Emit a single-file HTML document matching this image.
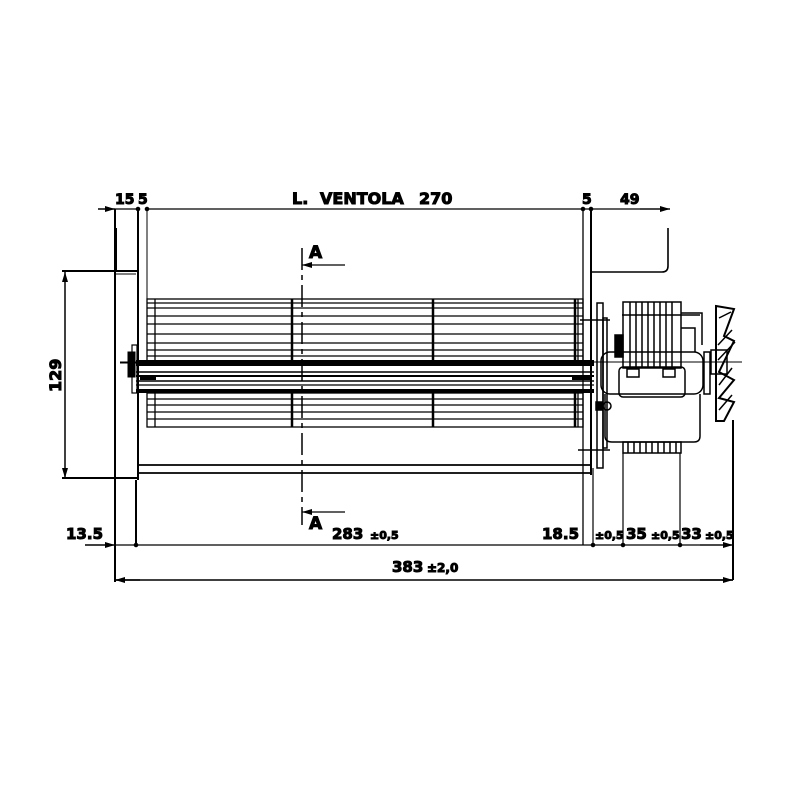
<!DOCTYPE html>
<html><head><style>
html,body{margin:0;padding:0;background:#fff;}
svg{display:block;}
text{font-family:"DejaVu Sans","Liberation Sans",sans-serif;font-weight:bold;fill:#000;}
</style></head><body>
<svg width="800" height="800" viewBox="0 0 800 800" xmlns="http://www.w3.org/2000/svg" stroke="#000" fill="none">
<defs>
<marker id="ar" viewBox="0 0 10 6" refX="10" refY="3" markerWidth="10" markerHeight="6" orient="auto" markerUnits="userSpaceOnUse"><path d="M0,0L10,3L0,6z" fill="#000" stroke="none"/></marker>
</defs>
<!-- top dimension -->
<line x1="147" y1="209" x2="670" y2="209" stroke-width="1.3"/>
<line x1="98" y1="209" x2="115" y2="209" stroke-width="1.5" marker-end="url(#ar)"/>
<line x1="115" y1="209" x2="138" y2="209" stroke-width="1.3"/>
<line x1="640" y1="209" x2="670" y2="209" stroke-width="1.3" marker-end="url(#ar)"/>
<circle cx="138" cy="209" r="1.8" fill="#000"/><circle cx="147" cy="209" r="1.8" fill="#000"/>
<circle cx="583" cy="209" r="1.8" fill="#000"/><circle cx="591" cy="209" r="1.8" fill="#000"/>
<text x="115" y="204" font-size="14">15</text><text x="138" y="204" font-size="14">5</text>
<text x="292" y="204" font-size="16">L.</text>
<text x="320" y="204" font-size="16">VENTOLA</text>
<text x="419" y="204" font-size="16">270</text>
<text x="582" y="204" font-size="14">5</text><text x="620" y="204" font-size="14">49</text>
<!-- left housing -->
<line x1="115" y1="209" x2="115" y2="582" stroke-width="2"/>
<line x1="116.5" y1="228" x2="116.5" y2="272" stroke-width="1"/>
<line x1="138" y1="209" x2="138" y2="480" stroke-width="2"/>
<line x1="147" y1="209" x2="147" y2="300" stroke-width="1"/>
<line x1="62" y1="271" x2="138" y2="271" stroke-width="2"/>
<line x1="116" y1="274" x2="136" y2="274" stroke-width="1"/>
<line x1="62" y1="478" x2="138" y2="478" stroke-width="2"/>
<line x1="65" y1="300" x2="65" y2="272" stroke-width="1.5" marker-end="url(#ar)"/>
<line x1="65" y1="300" x2="65" y2="478" stroke-width="1.5" marker-end="url(#ar)"/>
<text transform="translate(61,392) rotate(-90)" font-size="16">129</text>
<!-- left bearing -->
<rect x="128" y="352" width="7" height="25" fill="#000"/>
<rect x="132" y="345" width="5" height="48" stroke-width="1.2"/>
<line x1="120" y1="363" x2="140" y2="363" stroke-width="1"/>
<!-- right plate -->
<line x1="583" y1="209" x2="583" y2="545" stroke-width="1.3"/>
<line x1="591" y1="209" x2="591" y2="475" stroke-width="2"/>
<path d="M591,272 H662 Q668,272 668,266 V228" stroke-width="1.6"/>
<!-- rotor -->
<g stroke-width="1.3">
<rect x="147" y="299" width="436" height="63"/>
<line x1="147" y1="303" x2="583" y2="303"/><line x1="147" y1="308" x2="583" y2="308"/>
<line x1="147" y1="316" x2="583" y2="316"/><line x1="147" y1="324" x2="583" y2="324"/>
<line x1="147" y1="334" x2="583" y2="334"/><line x1="147" y1="343" x2="583" y2="343"/>
<line x1="147" y1="350" x2="583" y2="350"/><line x1="147" y1="356" x2="583" y2="356"/>
<rect x="147" y="393" width="436" height="34"/>
<line x1="147" y1="399" x2="583" y2="399"/><line x1="147" y1="405" x2="583" y2="405"/>
<line x1="147" y1="412" x2="583" y2="412"/><line x1="147" y1="419" x2="583" y2="419"/>
<line x1="155" y1="299" x2="155" y2="362"/><line x1="155" y1="393" x2="155" y2="427"/>
<line x1="578" y1="299" x2="578" y2="362"/><line x1="578" y1="393" x2="578" y2="427"/>
</g>
<g stroke-width="2.5">
<line x1="292" y1="299" x2="292" y2="362"/><line x1="292" y1="393" x2="292" y2="427"/>
<line x1="433" y1="299" x2="433" y2="362"/><line x1="433" y1="393" x2="433" y2="427"/>
<line x1="575" y1="299" x2="575" y2="362"/><line x1="575" y1="393" x2="575" y2="427"/>
</g>
<!-- shaft -->
<rect x="136" y="360" width="458" height="6" fill="#000" stroke="none"/>
<line x1="136" y1="372" x2="594" y2="372" stroke-width="1.5"/>
<line x1="136" y1="376" x2="594" y2="376" stroke-width="2"/>
<line x1="136" y1="381" x2="594" y2="381" stroke-width="1.5"/>
<line x1="136" y1="385" x2="594" y2="385" stroke-width="1.2"/>
<rect x="136" y="389" width="458" height="4" fill="#000" stroke="none"/>
<rect x="140" y="376" width="16" height="4" fill="#000" stroke="none"/>
<rect x="572" y="376" width="20" height="4" fill="#000" stroke="none"/>
<!-- bottom rail -->
<line x1="138" y1="465" x2="591" y2="465" stroke-width="1.8"/>
<line x1="138" y1="473" x2="591" y2="473" stroke-width="1.8"/>
<!-- section A -->
<line x1="302" y1="248" x2="302" y2="525" stroke-width="1.5" stroke-dasharray="22,5,5,5"/>
<line x1="345" y1="265" x2="302" y2="265" stroke-width="1.2" marker-end="url(#ar)"/>
<line x1="345" y1="512" x2="302" y2="512" stroke-width="1.2" marker-end="url(#ar)"/>
<text x="309" y="258" font-size="17">A</text><text x="309" y="529" font-size="17">A</text>
<!-- motor -->
<g stroke-width="1.5">
<rect x="597" y="303" width="6" height="165"/>
<rect x="603" y="318" width="4" height="130"/>
<rect x="623" y="302" width="58" height="66"/>
<path d="M630,302V368M636,302V368M642,302V368M648,302V368M654,302V368M660,302V368M666,302V368M672,302V368"/>
<line x1="622" y1="315" x2="700" y2="315"/>
<line x1="580" y1="320" x2="610" y2="320"/>
<path d="M681,313H702V345"/><path d="M681,328H695V352"/>
<rect x="601" y="352" width="102" height="42" rx="9"/>
<rect x="619" y="367" width="66" height="30" rx="4"/>
<rect x="627" y="369" width="12" height="8"/><rect x="663" y="369" width="12" height="8"/>
<path d="M605,394V436Q605,442 612,442H694Q700,442 700,436V394"/>
<rect x="623" y="442" width="58" height="11"/>
<path d="M628,442V453M634,442V453M640,442V453M646,442V453M652,442V453M658,442V453M664,442V453M670,442V453M676,442V453"/>
<circle cx="607" cy="406" r="4"/>
<line x1="578" y1="450" x2="610" y2="450"/>
<rect x="596" y="402" width="6" height="8" fill="#000"/>
<rect x="615" y="335" width="8" height="22" fill="#000"/>
<rect x="704" y="352" width="6" height="42"/>
<!-- fan -->
<path d="M716,306L734,309L724,336L734,341L719,372L734,380L719,398L734,402L724,421L716,421L716,306Z" stroke-width="2"/>
<path d="M719,318L731,312M718,345L732,330M718,360L735,342M719,385L732,368M719,410L732,395"/>
<rect x="711" y="350" width="16" height="24"/>
<line x1="733" y1="420" x2="733" y2="580" stroke-width="2"/>
</g>
<line x1="120" y1="362" x2="742" y2="362" stroke-width="1"/>
<!-- motor dim extension lines -->
<line x1="593" y1="468" x2="593" y2="545" stroke-width="1.2"/>
<line x1="623" y1="453" x2="623" y2="545" stroke-width="1.2"/>
<line x1="680" y1="453" x2="680" y2="545" stroke-width="1.2"/>
<!-- bottom dims -->
<line x1="85" y1="545" x2="115" y2="545" stroke-width="1.5" marker-end="url(#ar)"/>
<line x1="115" y1="545" x2="733" y2="545" stroke-width="1.3"/>
<line x1="700" y1="545" x2="733" y2="545" stroke-width="1.3" marker-end="url(#ar)"/>
<line x1="136" y1="480" x2="136" y2="545" stroke-width="2"/>
<circle cx="136" cy="545" r="1.8" fill="#000"/><circle cx="593" cy="545" r="1.8" fill="#000"/>
<circle cx="623" cy="545" r="1.8" fill="#000"/><circle cx="680" cy="545" r="1.8" fill="#000"/>
<text x="66" y="539" font-size="15">13.5</text>
<text x="332" y="539" font-size="15">283</text><text x="370" y="539" font-size="11">±0,5</text>
<text x="542" y="539" font-size="15">18.5</text><text x="595" y="539" font-size="11">±0,5</text>
<text x="626" y="539" font-size="15">35</text><text x="651" y="539" font-size="11">±0,5</text>
<text x="681" y="539" font-size="15">33</text><text x="705" y="539" font-size="11">±0,5</text>
<line x1="115" y1="580" x2="733" y2="580" stroke-width="1.5"/>
<line x1="140" y1="580" x2="115" y2="580" stroke-width="1.5" marker-end="url(#ar)"/>
<line x1="700" y1="580" x2="733" y2="580" stroke-width="1.5" marker-end="url(#ar)"/>
<text x="392" y="572" font-size="15">383</text><text x="427" y="572" font-size="12">±2,0</text>
</svg>
</body></html>
